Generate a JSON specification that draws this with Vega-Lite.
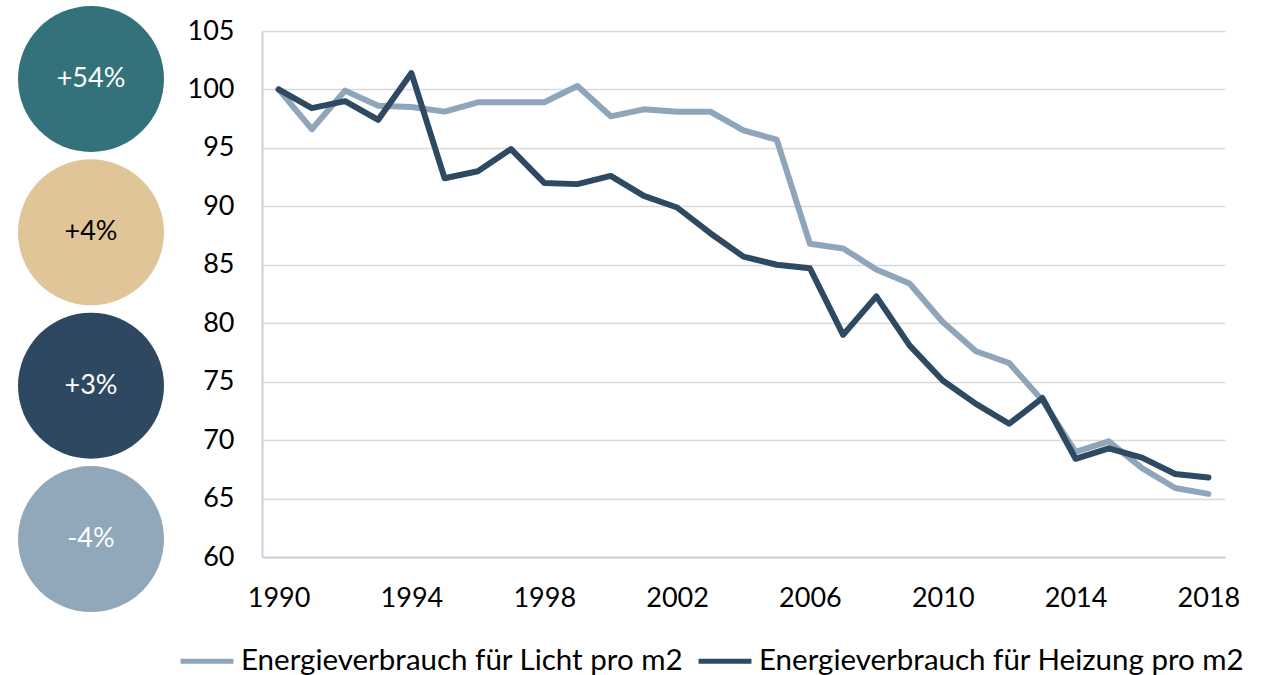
{
  "$schema": "https://vega.github.io/schema/vega-lite/v6.json",
  "padding": {"left": 0, "top": 5, "right": 0, "bottom": 0},
  "autosize": {"type": "pad"},
  "bounds": "flush",
  "spacing": 80,
  "config": {"view": {"stroke": null}, "font": "Lato"},
  "hconcat": [
    {
      "width": 182,
      "height": 526,
      "data": {"values": [
        {"label": "+54%", "rank": 1},
        {"label": "+4%", "rank": 2},
        {"label": "+3%", "rank": 3},
        {"label": "-4%", "rank": 4}
      ]},
      "encoding": {
        "y": {"field": "rank", "type": "quantitative", "scale": {"domain": [0.687, 4.117], "reverse": true, "nice": false, "zero": false}, "axis": null}
      },
      "layer": [
        {
          "mark": {"type": "point", "shape": "circle", "filled": true, "size": 21316, "opacity": 1, "strokeWidth": 0},
          "encoding": {
            "fill": {"field": "label", "type": "nominal", "scale": {"domain": ["+54%", "+4%", "+3%", "-4%"], "range": ["#33727B", "#E0C598", "#2E4862", "#91A7BA"]}, "legend": null}
          }
        },
        {
          "mark": {"type": "text", "fontSize": 27, "font": "Lato", "align": "center", "baseline": "middle"},
          "encoding": {
            "text": {"field": "label"},
            "color": {"condition": {"test": "datum.label === '+4%'", "value": "#000000"}, "value": "#FFFFFF"}
          }
        }
      ]
    },
    {
      "width": 963,
      "height": 526,
      "data": {"values": [
        {"year": 1990, "series": "Energieverbrauch für Licht pro m2", "value": 100},
        {"year": 1991, "series": "Energieverbrauch für Licht pro m2", "value": 96.6},
        {"year": 1992, "series": "Energieverbrauch für Licht pro m2", "value": 99.9},
        {"year": 1993, "series": "Energieverbrauch für Licht pro m2", "value": 98.6},
        {"year": 1994, "series": "Energieverbrauch für Licht pro m2", "value": 98.5},
        {"year": 1995, "series": "Energieverbrauch für Licht pro m2", "value": 98.1},
        {"year": 1996, "series": "Energieverbrauch für Licht pro m2", "value": 98.9},
        {"year": 1997, "series": "Energieverbrauch für Licht pro m2", "value": 98.9},
        {"year": 1998, "series": "Energieverbrauch für Licht pro m2", "value": 98.9},
        {"year": 1999, "series": "Energieverbrauch für Licht pro m2", "value": 100.3},
        {"year": 2000, "series": "Energieverbrauch für Licht pro m2", "value": 97.7},
        {"year": 2001, "series": "Energieverbrauch für Licht pro m2", "value": 98.3},
        {"year": 2002, "series": "Energieverbrauch für Licht pro m2", "value": 98.1},
        {"year": 2003, "series": "Energieverbrauch für Licht pro m2", "value": 98.1},
        {"year": 2004, "series": "Energieverbrauch für Licht pro m2", "value": 96.5},
        {"year": 2005, "series": "Energieverbrauch für Licht pro m2", "value": 95.7},
        {"year": 2006, "series": "Energieverbrauch für Licht pro m2", "value": 86.8},
        {"year": 2007, "series": "Energieverbrauch für Licht pro m2", "value": 86.4},
        {"year": 2008, "series": "Energieverbrauch für Licht pro m2", "value": 84.6},
        {"year": 2009, "series": "Energieverbrauch für Licht pro m2", "value": 83.4},
        {"year": 2010, "series": "Energieverbrauch für Licht pro m2", "value": 80.1},
        {"year": 2011, "series": "Energieverbrauch für Licht pro m2", "value": 77.6},
        {"year": 2012, "series": "Energieverbrauch für Licht pro m2", "value": 76.6},
        {"year": 2013, "series": "Energieverbrauch für Licht pro m2", "value": 73.4},
        {"year": 2014, "series": "Energieverbrauch für Licht pro m2", "value": 69.0},
        {"year": 2015, "series": "Energieverbrauch für Licht pro m2", "value": 69.9},
        {"year": 2016, "series": "Energieverbrauch für Licht pro m2", "value": 67.6},
        {"year": 2017, "series": "Energieverbrauch für Licht pro m2", "value": 65.9},
        {"year": 2018, "series": "Energieverbrauch für Licht pro m2", "value": 65.4},
        {"year": 1990, "series": "Energieverbrauch für Heizung pro m2", "value": 100},
        {"year": 1991, "series": "Energieverbrauch für Heizung pro m2", "value": 98.4},
        {"year": 1992, "series": "Energieverbrauch für Heizung pro m2", "value": 99.0},
        {"year": 1993, "series": "Energieverbrauch für Heizung pro m2", "value": 97.4},
        {"year": 1994, "series": "Energieverbrauch für Heizung pro m2", "value": 101.4},
        {"year": 1995, "series": "Energieverbrauch für Heizung pro m2", "value": 92.4},
        {"year": 1996, "series": "Energieverbrauch für Heizung pro m2", "value": 93.0},
        {"year": 1997, "series": "Energieverbrauch für Heizung pro m2", "value": 94.9},
        {"year": 1998, "series": "Energieverbrauch für Heizung pro m2", "value": 92.0},
        {"year": 1999, "series": "Energieverbrauch für Heizung pro m2", "value": 91.9},
        {"year": 2000, "series": "Energieverbrauch für Heizung pro m2", "value": 92.6},
        {"year": 2001, "series": "Energieverbrauch für Heizung pro m2", "value": 90.9},
        {"year": 2002, "series": "Energieverbrauch für Heizung pro m2", "value": 89.9},
        {"year": 2003, "series": "Energieverbrauch für Heizung pro m2", "value": 87.7},
        {"year": 2004, "series": "Energieverbrauch für Heizung pro m2", "value": 85.7},
        {"year": 2005, "series": "Energieverbrauch für Heizung pro m2", "value": 85.0},
        {"year": 2006, "series": "Energieverbrauch für Heizung pro m2", "value": 84.7},
        {"year": 2007, "series": "Energieverbrauch für Heizung pro m2", "value": 79.0},
        {"year": 2008, "series": "Energieverbrauch für Heizung pro m2", "value": 82.3},
        {"year": 2009, "series": "Energieverbrauch für Heizung pro m2", "value": 78.1},
        {"year": 2010, "series": "Energieverbrauch für Heizung pro m2", "value": 75.1},
        {"year": 2011, "series": "Energieverbrauch für Heizung pro m2", "value": 73.1},
        {"year": 2012, "series": "Energieverbrauch für Heizung pro m2", "value": 71.4},
        {"year": 2013, "series": "Energieverbrauch für Heizung pro m2", "value": 73.6},
        {"year": 2014, "series": "Energieverbrauch für Heizung pro m2", "value": 68.4},
        {"year": 2015, "series": "Energieverbrauch für Heizung pro m2", "value": 69.3},
        {"year": 2016, "series": "Energieverbrauch für Heizung pro m2", "value": 68.5},
        {"year": 2017, "series": "Energieverbrauch für Heizung pro m2", "value": 67.1},
        {"year": 2018, "series": "Energieverbrauch für Heizung pro m2", "value": 66.8}
      ]},
      "mark": {"type": "line", "strokeWidth": 6, "strokeCap": "round", "strokeJoin": "round"},
      "encoding": {
        "x": {
          "field": "year", "type": "quantitative",
          "scale": {"domain": [1989.5, 2018.5], "nice": false, "zero": false},
          "axis": {"values": [1990, 1994, 1998, 2002, 2006, 2010, 2014, 2018], "format": "d", "grid": false, "ticks": false, "domainColor": "#C8D2DC", "domainWidth": 2, "labelFontSize": 27, "labelFont": "Lato", "labelColor": "#000000", "labelPadding": 28, "labelFlush": false, "title": null}
        },
        "y": {
          "field": "value", "type": "quantitative",
          "scale": {"domain": [60, 105], "nice": false, "zero": false},
          "axis": {"values": [60, 65, 70, 75, 80, 85, 90, 95, 100, 105], "grid": true, "gridColor": "#D9D9D9", "gridWidth": 1.5, "ticks": false, "domainColor": "#C8D2DC", "domainWidth": 2, "labelFontSize": 27, "labelFont": "Lato", "labelColor": "#000000", "labelPadding": 28, "labelFlush": false, "title": null}
        },
        "color": {
          "field": "series", "type": "nominal",
          "scale": {"domain": ["Energieverbrauch für Licht pro m2", "Energieverbrauch für Heizung pro m2"], "range": ["#8FA5BA", "#2E4A63"]},
          "legend": {"orient": "none", "legendX": 178, "legendY": 601, "direction": "horizontal", "title": null, "symbolType": "stroke", "symbolSize": 2800, "symbolStrokeWidth": 5, "labelFontSize": 29.5, "labelFont": "Lato", "labelColor": "#000000", "labelOffset": 5, "columnPadding": 4, "labelLimit": 600}
        }
      }
    }
  ]
}
